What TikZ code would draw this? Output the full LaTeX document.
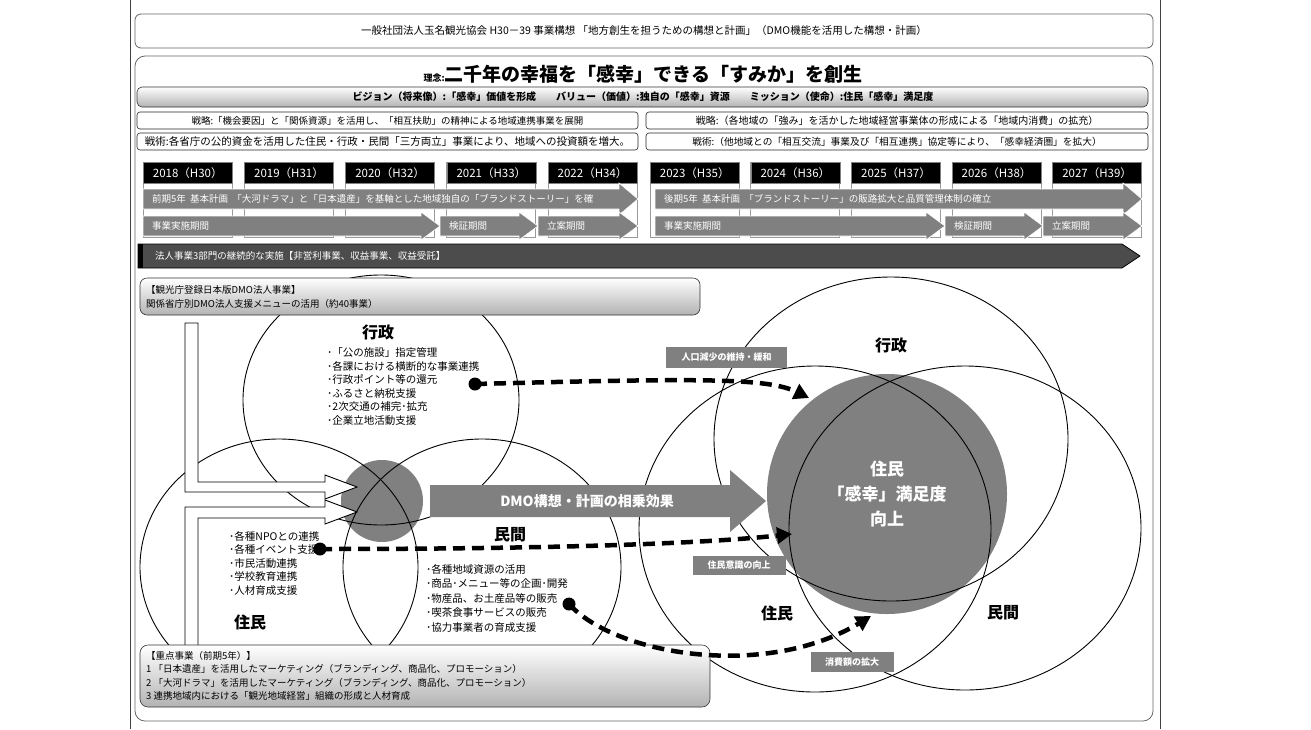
\documentclass[tikz,border=0pt]{standalone}
\usepackage{fontspec}
\setmainfont{Noto Sans CJK JP}
\usetikzlibrary{arrows.meta}
\newcommand\fs[1]{\fontsize{#1}{#1}\selectfont}
\tikzset{
 pageline/.style={draw=black!75, line width=1pt},
 outerbox/.style={draw=black!60, line width=0.8pt, rounded corners=6pt},
 graybar/.style={draw=black!80, line width=0.6pt, rounded corners=5pt, top color=white, bottom color=black!30},
 strbox/.style={draw=black!85, line width=0.6pt, rounded corners=3pt},
 col/.style={draw=black!40, line width=0.5pt, fill=white},
 yearbox/.style={fill=black, draw=black!50, line width=0.5pt, text=white, font=\fs{11.5}, inner sep=0pt, minimum width=89pt, minimum height=21pt, anchor=north west},
 tlfill/.style={fill=black!50, draw=white, line width=0.7pt},
 tltext/.style={anchor=west, text=white, font=\fs{9.5}, inner sep=0pt},
 darkbar/.style={fill=black!70, draw=black, line width=0.8pt},
 venn/.style={draw=black, line width=0.9pt},
 disk/.style={fill=black!50},
 whitearrow/.style={fill=white, draw=black, line width=0.9pt, line join=miter},
 tag/.style={fill=black!50, text=white, font=\fs{9}\bfseries, inner sep=0pt},
 dasharrow/.style={line width=4.5pt, dash pattern=on 12pt off 7pt, -{Triangle[length=15pt,width=16pt]}},
 dot/.style={circle, fill=black, minimum size=13pt, inner sep=0pt},
 circlabel/.style={font=\fs{16}\bfseries, inner sep=0pt},
 bullets/.style={anchor=west, align=left, inner sep=0pt},
}
\newcommand\tlarr[5]{%
  \draw[tlfill] (#1,#3-10) -- (#2-19,#3-10) -- (#2-19,#3-#5) -- (#2,#3) -- (#2-19,#3+#5) -- (#2-19,#3+10) -- (#1,#3+10) -- cycle;
  \node[tltext] at (#1+9,#3) {#4};}
\begin{document}
\begin{tikzpicture}[x=1pt,y=-1pt]
\useasboundingbox[fill=white] (0,0) rectangle (1311,729);
\draw[pageline] (130,0) -- (130,729);
\draw[pageline] (1160,0) -- (1160,729);
% header
\draw[outerbox] (135,14) rectangle (1153,48);
\node[font=\fs{10.5}] (head) at (644,31) {一般社団法人玉名観光協会\ H30－39\ 事業構想\ 「地方創生を担うための構想と計画」（DMO機能を活用した構想・計画）};
\draw[outerbox, rounded corners=10pt] (135,56) rectangle (1153,721);
\node[font=\bfseries] (title) at (643,74) {{\fs{9}理念:}{\fs{19}二千年の幸福を「感幸」できる「すみか」を創生}};
% vision
\draw[graybar] (137,87) rectangle (1148,107);
\node[font=\fs{10}\bfseries] (vision) at (643,97) {ビジョン（将来像）:「感幸」価値を形成\hspace{20pt}バリュー（価値）:独自の「感幸」資源\hspace{20pt}ミッション（使命）:住民「感幸」満足度};
% strategy / tactics
\draw[strbox] (137,112) rectangle (638,129);
\node[font=\fs{9.5}] (sL) at (387.5,120.5) {戦略:「機会要因」と「関係資源」を活用し、「相互扶助」の精神による地域連携事業を展開};
\draw[strbox] (646,112) rectangle (1148,129);
\node[font=\fs{10}] (sR) at (897,120.5) {戦略:（各地域の「強み」を活かした地域経営事業体の形成による「地域内消費」の拡充）};
\draw[strbox] (137,133) rectangle (638,150);
\node[font=\fs{10.5}] (tL) at (387.5,141.5) {戦術:各省庁の公的資金を活用した住民・行政・民間「三方両立」事業により、地域への投資額を増大。};
\draw[strbox] (646,133) rectangle (1148,150);
\node[font=\fs{9.7}] (tR) at (897,141.5) {戦術:（他地域との「相互交流」事業及び「相互連携」協定等により、「感幸経済圏」を拡大）};
% years
\foreach \x/\t [count=\i] in {143/2018（H30）,244.2/2019（H31）,345.4/2020（H32）,446.6/2021（H33）,547.8/2022（H34）,650/2023（H35）,750.6/2024（H36）,851.2/2025（H37）,951.8/2026（H38）,1052.4/2027（H39）}{
  \draw[col] (\x,162) rectangle ++(89,75);
  \node[yearbox] (y\i) at (\x,162) {\t};
}
% timeline arrows
\tlarr{143}{638}{199}{前期5年\ \ 基本計画\ \ 「大河ドラマ」と「日本遺産」を基軸とした地域独自の「ブランドストーリー」を確}{16}
\tlarr{143}{440}{226}{事業実施期間}{14}
\tlarr{440}{538}{226}{検証期間}{14}
\tlarr{538}{638}{226}{立案期間}{14}
\tlarr{655}{1142}{199}{後期5年\ \ 基本計画\ \ 「ブランドストーリー」の販路拡大と品質管理体制の確立}{16}
\tlarr{655}{945}{226}{事業実施期間}{14}
\tlarr{945}{1043}{226}{検証期間}{14}
\tlarr{1043}{1142}{226}{立案期間}{14}
% corporate bar
\draw[darkbar] (138,244) -- (1122,244) -- (1140,256) -- (1122,268) -- (138,268) -- cycle;
\fill[black] (138,244) rectangle (143,268);
\node[tltext] (corp) at (155,256) {法人事業3部門の継続的な実施【非営利事業、収益事業、収益受託】};
% disks
\fill[disk] (887,494) circle[radius=120pt];
\fill[disk] (382,501) circle[radius=41pt];
% venn circles
\draw[venn] (381,400) ellipse[x radius=138pt, y radius=125pt];
\draw[venn] (279,567) ellipse[x radius=139pt, y radius=128pt];
\draw[venn] (482,567) ellipse[x radius=139pt, y radius=128pt];
\draw[venn] (891,439) ellipse[x radius=177pt, y radius=162pt];
\draw[venn] (815,529) ellipse[x radius=176pt, y radius=163pt];
\draw[venn] (965,528) ellipse[x radius=176pt, y radius=162pt];
% white fork arrows
\draw[whitearrow] (185,323) -- (198,323) -- (198,482) -- (325,482) -- (325,475) -- (357,487) -- (325,499) -- (325,492) -- (185,492) -- cycle;
\draw[whitearrow] (185,652) -- (185,507) -- (325,507) -- (325,500) -- (357,512) -- (325,524) -- (325,518) -- (198,518) -- (198,652) -- cycle;
% boxes
\draw[graybar, rounded corners=7pt] (140,278) rectangle (700,315);
\node[anchor=west, align=left, inner sep=0pt, font=\fontsize{9.5}{14}\selectfont] (dmobox) at (146,296.5) {【観光庁登録日本版DMO法人事業】\\関係省庁別DMO法人支援メニューの活用（約40事業）};
\draw[graybar, rounded corners=8pt] (140,645) rectangle (710,707);
\node[anchor=west, align=left, inner sep=0pt, font=\fontsize{9.5}{13.4}\selectfont] (focus) at (146,676) {【重点事業（前期5年）】\\1\ 「日本遺産」を活用したマーケティング（ブランディング、商品化、プロモーション）\\2\ 「大河ドラマ」を活用したマーケティング（ブランディング、商品化、プロモーション）\\3\ 連携地域内における「観光地域経営」組織の形成と人材育成};
% DMO effect arrow
\fill[black!50] (430,485) -- (730,485) -- (730,470) -- (766,501) -- (730,532) -- (730,517) -- (430,517) -- cycle;
\node[font=\fs{14}\bfseries, text=white] (dmo) at (587,501) {DMO構想・計画の相乗効果};
% tags
\node[tag, minimum width=121pt, minimum height=21pt] (tg1) at (726.5,357) {人口減少の維持・緩和};
\node[tag, minimum width=93pt, minimum height=19pt] (tg2) at (739,565) {住民意識の向上};
\node[tag, minimum width=83pt, minimum height=20pt] (tg3) at (852,662) {消費額の拡大};
% circle labels
\node[circlabel] (gyL) at (378,332) {行政};
\node[circlabel] (mkL) at (510,535) {民間};
\node[circlabel] (jmL) at (250,622) {住民};
\node[circlabel] (gyR) at (891,345) {行政};
\node[circlabel] (jmR) at (777,613) {住民};
\node[circlabel] (mkR) at (1003,613) {民間};
% lists
\node[bullets, font=\fontsize{10.5}{13.6}\selectfont] (lg) at (327,386.5) {･「公の施設」指定管理\\･各課における横断的な事業連携\\･行政ポイント等の還元\\･ふるさと納税支援\\･2次交通の補完･拡充\\･企業立地活動支援};
\node[bullets, font=\fontsize{10.5}{13.5}\selectfont] (lj) at (229,563) {･各種NPOとの連携\\･各種イベント支援\\･市民活動連携\\･学校教育連携\\･人材育成支援};
\node[bullets, font=\fontsize{10.5}{14.5}\selectfont] (lm) at (426,598) {･各種地域資源の活用\\･商品･メニュー等の企画･開発\\･物産品、お土産品等の販売\\･喫茶食事サービスの販売\\･協力事業者の育成支援};
% dashed arrows
\node[dot] (d1) at (475,384) {};
\coordinate (e1) at (809,398);
\draw[dasharrow] (d1.center) .. controls (705,378) and (768,378) .. (e1);
\node[dot] (d2) at (320,549) {};
\coordinate (e2) at (792,534);
\draw[dasharrow] (d2.center) .. controls (520,549) and (690,545) .. (e2);
\node[dot] (d3) at (569,604) {};
\coordinate (e3) at (871,616);
\draw[dasharrow] (d3.center) .. controls (615,655) and (765,680) .. (e3);
% core text
\node[font=\fontsize{17}{25}\selectfont\bfseries, text=white, align=center] (core) at (887,494) {住民\\「感幸」満足度\\向上};
\end{tikzpicture}
\end{document}
